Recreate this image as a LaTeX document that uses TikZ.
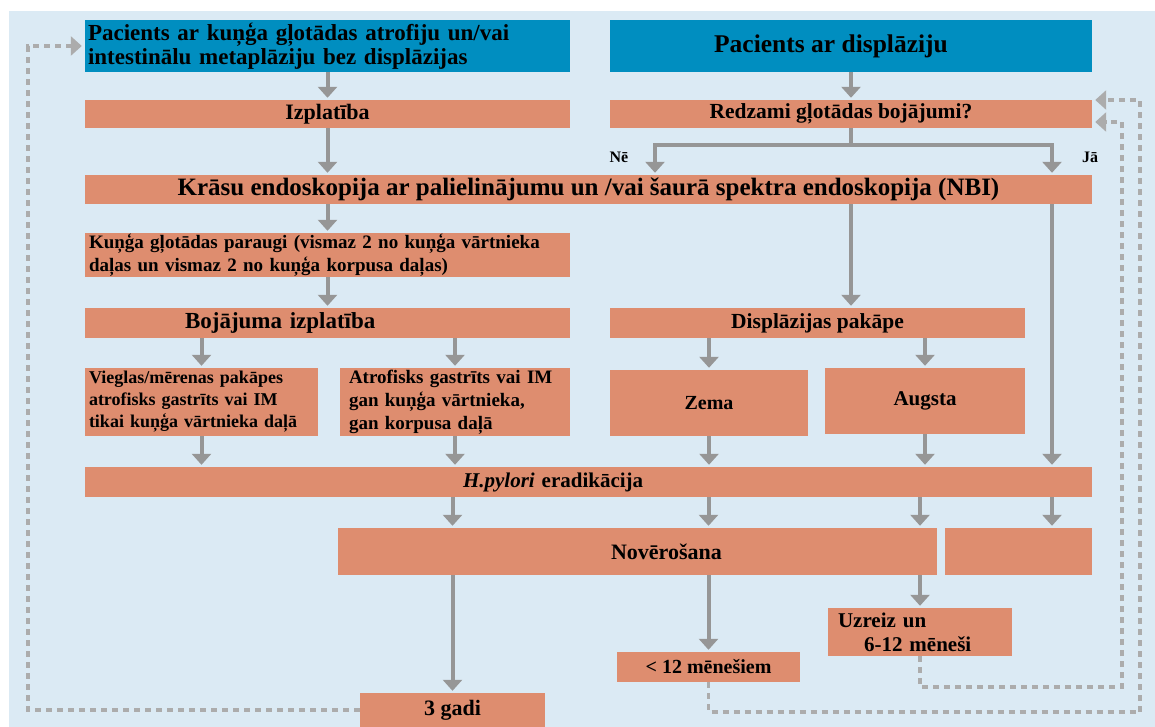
\documentclass[tikz,border=0pt]{standalone}
\usepackage{fontspec}
\setmainfont{Liberation Serif}
\usetikzlibrary{positioning,calc,arrows.meta}
\definecolor{bgblue}{RGB}{219,234,244}
\definecolor{pacblue}{RGB}{0,142,192}
\definecolor{boxorange}{RGB}{222,141,111}
\definecolor{arrgray}{RGB}{150,150,150}
\definecolor{dotgray}{RGB}{172,172,172}
\newcommand\fsz[2]{\fontsize{#1}{#2}\selectfont}

\begin{document}
\begin{tikzpicture}[x=1pt, y=-1pt,
    box/.style={rectangle, fill=boxorange, inner sep=0pt, text=black},
    bluebox/.style={rectangle, fill=pacblue, inner sep=0pt, text=black},
    arr/.style={arrgray, line width=4pt, -{Triangle[width=19pt,length=11pt]}, shorten >=2pt},
    fb/.style={dotgray, line width=3.5pt, dash pattern=on 6pt off 5pt},
    fbarr/.style={fb, -{Triangle[width=19pt,length=11pt]}, shorten >=3pt},
    ynlabel/.style={font=\bfseries\fsz{16}{18}}
]
\useasboundingbox (0,0) rectangle (1155,727);
\fill[bgblue] (9,11) rectangle (1155,727);

% patients
\node[bluebox, minimum width=485pt, minimum height=52pt, text width=479pt, inner xsep=3pt, align=left,
      font=\bfseries\fsz{23}{24}] (pacA) at (327.5,46)
      {Pacients ar kuņģa gļotādas atrofiju un/vai\\intestinālu metaplāziju bez displāzijas};
\node[bluebox, minimum width=482pt, minimum height=52pt, font=\bfseries\fsz{25.5}{27}] (pacB) at (851,46)
      {\hspace*{-40pt}Pacients ar displāziju};

\node[box, minimum width=485pt, minimum height=28pt, font=\bfseries\fsz{22}{24}] (izpl) at (327.5,114) {Izplatība};
\node[box, minimum width=482pt, minimum height=28pt, font=\bfseries\fsz{21.5}{24}] (redz) at (851,114) {\hspace*{-20pt}Redzami gļotādas bojājumi?};

\node[box, minimum width=1007pt, minimum height=29pt, font=\bfseries\fsz{25}{26}] (kras) at (588.5,189.5)
      {Krāsu endoskopija ar palielinājumu un /vai šaurā spektra endoskopija (NBI)};

\node[box, minimum width=485pt, minimum height=44pt, text width=477pt, inner xsep=4pt, align=left,
      font=\bfseries\fsz{19}{23}] (parau) at (327.5,255)
      {Kuņģa gļotādas paraugi (vismaz 2 no kuņģa vārtnieka\\daļas un vismaz 2 no kuņģa korpusa daļas)};

\node[box, minimum width=485pt, minimum height=30pt, text width=477pt, inner xsep=4pt, align=left,
      font=\bfseries\fsz{23}{25}] (bojiz) at (327.5,323) {\hspace*{96pt}Bojājuma izplatība};
\node[box, minimum width=415pt, minimum height=30pt, font=\bfseries\fsz{21.5}{24}] (dispak) at (817.5,323) {Displāzijas pakāpe};

\node[box, minimum width=233pt, minimum height=68pt, text width=225pt, inner xsep=4pt, align=left,
      font=\bfseries\fsz{18}{22}] (vieg) at (201.5,402)
      {Vieglas/mērenas pakāpes\\atrofisks gastrīts vai IM\\tikai kuņģa vārtnieka daļā};
\node[box, minimum width=230pt, minimum height=68pt, text width=212pt, inner xsep=9pt, align=left,
      font=\bfseries\fsz{19}{23}] (atro) at (455,402)
      {Atrofisks gastrīts vai IM\\gan kuņģa vārtnieka,\\gan korpusa daļā};
\node[box, minimum width=198pt, minimum height=66pt, font=\bfseries\fsz{20}{22}] (zema) at (709,403) {Zema};
\node[box, minimum width=200pt, minimum height=66pt, font=\bfseries\fsz{21}{23}] (augs) at (925,401) {Augsta};

\node[box, minimum width=1007pt, minimum height=30pt, text width=999pt, inner xsep=4pt, align=left,
      font=\bfseries\fsz{21}{23}] (hpyl) at (588.5,482) {\hspace*{374pt}\textit{H.pylori} eradikācija};

\node[box, minimum width=599pt, minimum height=47pt, text width=591pt, inner xsep=4pt, align=left,
      font=\bfseries\fsz{22}{24}] (nover) at (637.5,551.5) {\hspace*{269pt}Novērošana};
\node[box, minimum width=147pt, minimum height=47pt] (empt) at (1018.5,551.5) {};

\node[box, minimum width=184pt, minimum height=48pt, text width=176pt, inner xsep=4pt, align=left,
      font=\bfseries\fsz{21}{24}] (uzr) at (920,632) {\hspace*{6pt}Uzreiz un\\\hspace*{32pt}6-12 mēneši};
\node[box, minimum width=183pt, minimum height=30pt, font=\bfseries\fsz{20}{22}] (men) at (708.5,667) {< 12 mēnešiem};
\node[box, minimum width=185pt, minimum height=34pt, font=\bfseries\fsz{22}{24}] (gadi) at (452.5,710) {3 gadi};

% yes / no branch
\coordinate (ne) at (655,145);
\coordinate (ja) at (1052,145);
\node[ynlabel] (nelbl) at (619,157) {Nē};
\node[ynlabel] (jalbl) at (1090,157) {Jā};

% arrows
\draw[arr] (pacA) -- (izpl);
\draw[arr] (izpl) -- (kras.north -| izpl);
\draw[arr] (pacB) -- (redz);
\draw[arrgray, line width=4pt] (redz.south) -- (redz.south |- ne);
\draw[arrgray, line width=4pt, line cap=rect] (ne) -- (ja);
\draw[arr] (ne) -- (kras.north -| ne);
\draw[arr] (ja) -- (kras.north -| ja);
\draw[arr] (kras.south -| parau) -- (parau);
\draw[arr] (parau) -- (bojiz);
\draw[arr] (kras.south -| redz) -- (dispak.north -| redz);
\draw[arr] (kras.south -| ja) -- (hpyl.north -| ja);
\draw[arr] (bojiz.south -| vieg) -- (vieg);
\draw[arr] (bojiz.south -| atro) -- (atro);
\draw[arr] (dispak.south -| zema) -- (zema);
\draw[arr] (dispak.south -| augs) -- (augs);
\foreach \n in {vieg, atro, zema, augs}
    \draw[arr] (\n) -- (hpyl.north -| \n);
\foreach \n in {gadi, men, uzr}
    \draw[arr] (hpyl.south -| \n) -- (nover.north -| \n);
\draw[arr] (hpyl.south -| ja) -- (empt.north -| ja);
\foreach \n in {gadi, men, uzr}
    \draw[arr] (nover.south -| \n) -- (\n);

% follow-up loops
\coordinate (lc) at (28,46);
\coordinate (ro) at (1140,100);
\coordinate (ri) at (1122,122);
\draw[fbarr] (gadi.west) -| (lc) -- (pacA.west);
\draw[fbarr] (men.south) -- ++(0,30) -| (ro) -- (redz.east |- ro);
\draw[fbarr] (uzr.south) -- ++(0,31) -| (ri) -- (redz.east |- ri);

\end{tikzpicture}
\end{document}
